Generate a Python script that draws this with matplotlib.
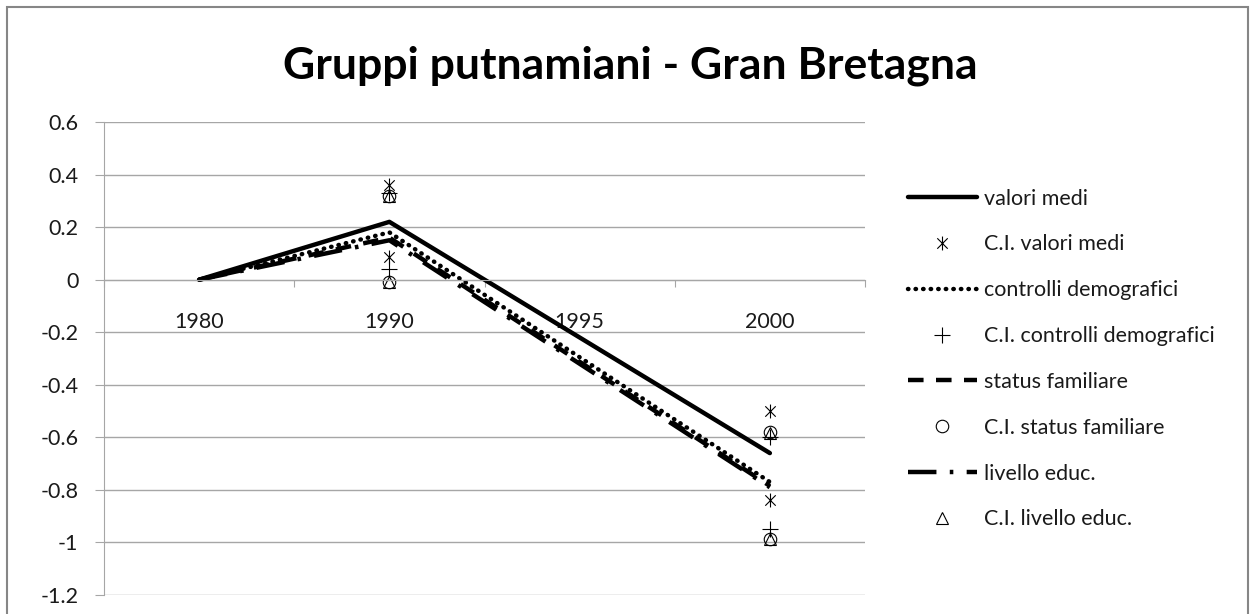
import numpy as np
import matplotlib.pyplot as plt
from matplotlib.patches import Rectangle
from matplotlib.path import Path

plt.rcParams['font.family'] = ['Lato', 'DejaVu Sans']

# categories on the x axis (1995 has no data, lines are joined across it)
years = ['1980', '1990', '1995', '2000']

# mean lines
valori_medi = [0, 0.22, None, -0.66]
controlli_demografici = [0, 0.18, None, -0.77]
status_familiare = [0, 0.16, None, -0.785]
livello_educ = [0, 0.15, None, -0.79]

# confidence intervals (upper / lower)
ci_valori_up = [None, 0.36, None, -0.50]
ci_valori_lo = [None, 0.085, None, -0.84]
ci_controlli_up = [None, 0.33, None, -0.60]
ci_controlli_lo = [None, 0.04, None, -0.95]
ci_status_up = [None, 0.32, None, -0.58]
ci_status_lo = [None, -0.01, None, -0.985]
ci_educ_up = [None, 0.32, None, -0.585]
ci_educ_lo = [None, -0.01, None, -0.985]

y_ticks = [0.6, 0.4, 0.2, 0, -0.2, -0.4, -0.6, -0.8, -1, -1.2]


def pts(vals):
    x = [i for i, v in enumerate(vals) if v is not None]
    y = [v for v in vals if v is not None]
    return x, y


def ci_pts(up, lo):
    xu, yu = pts(up)
    xl, yl = pts(lo)
    return xu + xl, yu + yl


# excel style asterisk: an x with a vertical bar
star = Path([(0, -1), (0, 1), (-0.75, -0.75), (0.75, 0.75), (-0.75, 0.75), (0.75, -0.75)],
            [Path.MOVETO, Path.LINETO] * 3)

fig = plt.figure(figsize=(12.55, 6.14), dpi=100)
ax = fig.add_axes([104 / 1255, 1 - 595 / 614, (865 - 104) / 1255, (595 - 122) / 614])

lw = 3.2
ms = 9
handles = []
h, = ax.plot(*pts(valori_medi), color='black', lw=lw, solid_capstyle='round',
             label='valori medi')
handles.append(h)
h, = ax.plot(*ci_pts(ci_valori_up, ci_valori_lo), ls='none', marker=star,
             ms=ms + 1, mfc='none', mec='black', mew=0.8, label='C.I. valori medi')
handles.append(h)
h, = ax.plot(*pts(controlli_demografici), color='black', lw=lw, ls=(0, (0.1, 1.6)),
             dash_capstyle='round', label='controlli demografici')
handles.append(h)
h, = ax.plot(*ci_pts(ci_controlli_up, ci_controlli_lo), ls='none', marker='+',
             ms=ms + 2, mec='black', mew=0.8, label='C.I. controlli demografici')
handles.append(h)
h, = ax.plot(*pts(status_familiare), color='black', lw=lw, ls=(0, (3.5, 2.8)),
             label='status familiare')
handles.append(h)
h, = ax.plot(*ci_pts(ci_status_up, ci_status_lo), ls='none', marker='o',
             ms=ms, mfc='none', mec='black', mew=0.8, label='C.I. status familiare')
handles.append(h)
h, = ax.plot(*pts(livello_educ), color='black', lw=lw, ls=(0, (6.4, 3, 0.8, 3)),
             label='livello educ.')
handles.append(h)
h, = ax.plot(*ci_pts(ci_educ_up, ci_educ_lo), ls='none', marker='^',
             ms=ms, mfc='none', mec='black', mew=0.8, label='C.I. livello educ.')
handles.append(h)

ax.set_xlim(-0.5, len(years) - 0.5)
ax.set_ylim(-1.2, 0.6)
ax.set_yticks(y_ticks)
ax.set_yticklabels(['{:g}'.format(t) for t in y_ticks])
ax.yaxis.grid(True, color='#a6a6a6', lw=1)
ax.set_axisbelow(True)

# category axis crossing at 0
ax.spines['top'].set_visible(False)
ax.spines['right'].set_visible(False)
ax.spines['left'].set_color('#a6a6a6')
ax.spines['bottom'].set_color('#a6a6a6')
ax.spines['bottom'].set_position(('data', 0))
ax.set_xticks(np.arange(len(years) + 1) - 0.5)
ax.set_xticklabels([])
ax.set_xticks(np.arange(len(years)), minor=True)
ax.set_xticklabels(years, minor=True)
ax.tick_params(axis='x', which='major', direction='out', length=5, color='#a6a6a6')
ax.tick_params(axis='x', which='minor', length=0, pad=23, labelsize=15.5, labelcolor='#1a1a1a')
ax.tick_params(axis='y', direction='out', length=6.5, color='#a6a6a6', pad=12,
               labelsize=15.5, labelcolor='#1a1a1a')

fig.text(0.502, 0.893, 'Gruppi putnamiani - Gran Bretagna', ha='center', va='center',
         fontsize=32, fontweight='bold')

leg = fig.legend(handles=handles, loc='upper left', bbox_to_anchor=(899 / 1255, 1 - 180 / 614),
                 frameon=False, fontsize=15.5, handlelength=3.2, handletextpad=0.36,
                 labelspacing=1.2, borderaxespad=0)
for t in leg.get_texts():
    t.set_color('#1a1a1a')

fig.patches.append(Rectangle((7 / 1255, -0.05), 1241 / 1255, 1.05 - 7 / 614,
                             transform=fig.transFigure, fill=False,
                             edgecolor='#868686', lw=1.5))

fig.savefig('out.png', dpi=100)
